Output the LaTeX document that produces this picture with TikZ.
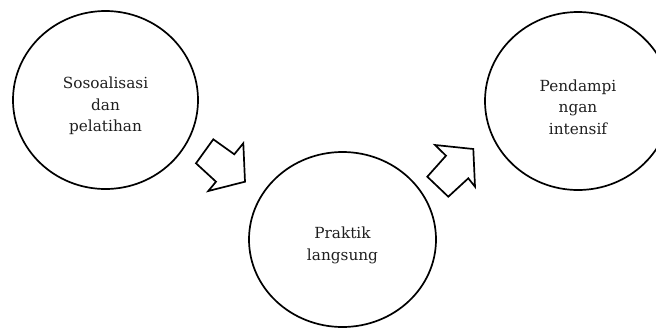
\documentclass[tikz,border=0pt]{standalone}
\usepackage{fontspec}
\setmainfont{DejaVu Serif}
\usetikzlibrary{shapes.geometric}
\tikzset{
  stage/.style={draw=black, line width=1.7pt, ellipse, inner sep=0pt},
  stagetext/.style={font=\fontsize{15.3}{21.5}\selectfont, text=black!88, align=center, inner sep=0pt},
  blockarrow/.style={draw=black, line width=1.7pt, line join=miter, fill=white}
}
\begin{document}
\begin{tikzpicture}[x=1pt,y=-1pt]
\useasboundingbox (0,0) rectangle (656,327);
\clip (0,0) rectangle (656,327);
\node[stage, minimum width=185pt, minimum height=178pt] (s1) at (105.5,100) {};
\node[stage, minimum width=187pt, minimum height=175pt] (s2) at (342.5,239.5) {};
\node[stage, minimum width=186pt, minimum height=178pt] (s3) at (578,101) {};
\node[stagetext] (t1) at ([yshift=-6pt]s1.center) {Sosoalisasi\\dan\\pelatihan};
\node[stagetext] (t2) at ([yshift=-6pt]s2.center) {Praktik\\langsung};
\node[stagetext] (t3) at ([yshift=-6pt]s3.center) {Pendampi\\ngan\\intensif};
% block arrow 1 (pointing down-right)
\draw[blockarrow] (196,163.3) -- (213.3,139.3) -- (234.3,154.3) -- (243.3,143.3)
  -- (245,181.7) -- (208.3,191) -- (216,181.7) -- cycle;
% block arrow 2 (pointing up-right)
\draw[blockarrow] (427.3,176.7) -- (446,155.7) -- (435,145) -- (473.3,149)
  -- (475,186.7) -- (468.3,178.3) -- (448.3,196.7) -- cycle;
\end{tikzpicture}
\end{document}
